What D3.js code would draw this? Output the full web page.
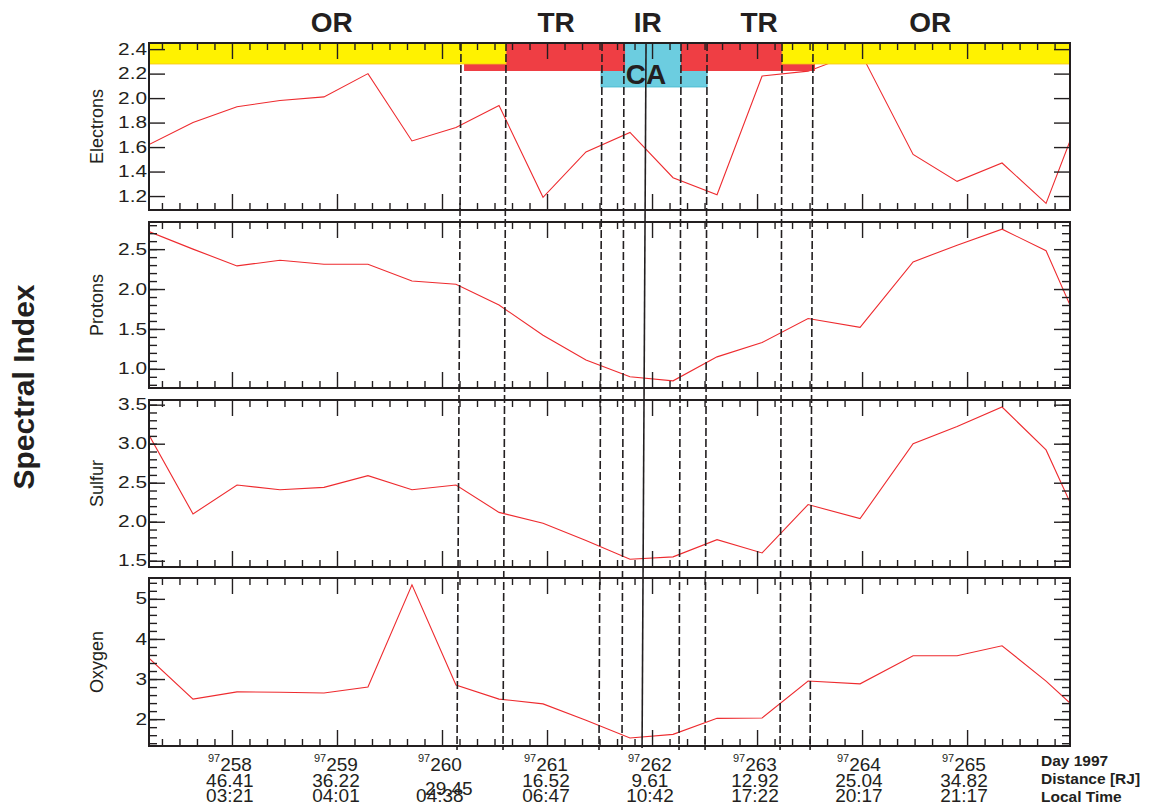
<!DOCTYPE html>
<html>
<head>
<meta charset="utf-8">
<script src="https://cdnjs.cloudflare.com/ajax/libs/d3/7.8.5/d3.min.js"></script>
<style>
  body { margin: 0; background: #fff; }
  text { font-family: "Liberation Sans", Arial, sans-serif; fill: #231f20; }
</style>
</head>
<body>
<div id="chart"></div>
<script>
// sample times (day of year 1997) and spectral indices
var times = [257.21, 257.629, 258.048, 258.457, 258.876, 259.295, 259.714, 260.133, 260.543, 260.962, 261.371,
             261.790, 262.200, 262.619, 263.048, 263.486, 263.981, 264.486, 264.905, 265.333, 265.752, 265.98];
var electrons = [1.62, 1.80, 1.93, 1.98, 2.01, 2.20, 1.65, 1.76, 1.94, 1.19, 1.56,
                 1.72, 1.35, 1.21, 2.18, 2.22, 2.38, 1.54, 1.32, 1.47, 1.14, 1.65];
var protons = [2.72, 2.50, 2.29, 2.36, 2.31, 2.31, 2.10, 2.06, 1.80, 1.42, 1.11,
               0.90, 0.85, 1.15, 1.33, 1.63, 1.52, 2.34, 2.55, 2.75, 2.48, 1.80];
var sulfur = [3.11, 2.10, 2.47, 2.41, 2.44, 2.59, 2.41, 2.47, 2.12, 1.98, 1.76,
              1.52, 1.55, 1.77, 1.60, 2.22, 2.04, 3.00, 3.22, 3.47, 2.92, 2.25];
var oxygen = [3.52, 2.50, 2.68, 2.67, 2.65, 2.80, 5.35, 2.85, 2.50, 2.38, 1.97,
              1.53, 1.62, 2.02, 2.03, 2.95, 2.88, 3.58, 3.58, 3.83, 2.95, 2.40];

// y ticks
var electronTicks = [1.2, 1.4, 1.6, 1.8, 2.0, 2.2, 2.4];
var protonTicks = [1.0, 1.5, 2.0, 2.5];
var sulfurTicks = [1.5, 2.0, 2.5, 3.0, 3.5];
var oxygenTicks = [2, 3, 4, 5];

// x tick labels
var dayTicks = [258, 259, 260, 261, 262, 263, 264, 265];
var labelDays = [257.98, 258.99, 259.98, 260.99, 261.98, 262.98, 263.97, 264.97];
var dayLabels = ["258", "259", "260", "261", "262", "263", "264", "265"];
var distances = ["46.41", "36.22", "29.45", "16.52", "9.61", "12.92", "25.04", "34.82"];
var localTimes = ["03:21", "04:01", "04:38", "06:47", "10:42", "17:22", "20:17", "21:17"];
var rowNames = ["Day 1997", "Distance [RJ]", "Local Time"];

// region boundaries (top / bottom of the dashed lines) and closest approach
var boundaryTop = [260.181, 260.610, 261.524, 261.733, 262.276, 262.524, 263.238, 263.533];
var boundaryBottom = [260.143, 260.581, 261.495, 261.714, 262.257, 262.505, 263.219, 263.505];
var closestTop = 261.943, closestBottom = 261.905;

var regionNames = ["OR", "TR", "IR", "TR", "OR"];
var regionDays = [258.95, 261.086, 261.96, 263.02, 264.65];
var yellowSpans = [[257.21, 260.61], [263.238, 265.98]];
var redSpans = [[260.21, 261.743], [262.276, 263.552]];
var cyanSpans = [[261.514, 262.524]];

var width = 1150, height = 805;
var ink = "#231f20";

var svg = d3.select("#chart")
            .append("svg")
            .attr("width", width)
            .attr("height", height);

var x = d3.scaleLinear().domain([257.21, 265.98]).range([149, 1070]);

// minor x ticks every 4 hours
var xMinor = d3.range(257 + 2 / 6, 265.99, 1 / 6).filter(function(d) {
    return Math.abs(d - Math.round(d)) > 0.01;
});

var panels = [
    {label: "Electrons", values: electrons, domain: [1.086, 2.45], major: electronTicks, minor: [], fmt: d3.format(".1f"), top: 43, bottom: 210},
    {label: "Protons", values: protons, domain: [0.76, 2.84], major: protonTicks, minor: d3.range(0.8, 2.85, 0.1), fmt: d3.format(".1f"), top: 222, bottom: 388},
    {label: "Sulfur", values: sulfur, domain: [1.42, 3.56], major: sulfurTicks, minor: d3.range(1.5, 3.55, 0.1), fmt: d3.format(".1f"), top: 400, bottom: 567},
    {label: "Oxygen", values: oxygen, domain: [1.33, 5.52], major: oxygenTicks, minor: d3.range(1.4, 5.45, 0.2), fmt: d3.format("d"), top: 578, bottom: 746}
];

function styleAxis(g) {
    g.select(".domain").remove();
    g.selectAll(".tick line").attr("stroke", ink).attr("stroke-width", 1.4);
}

panels.forEach(function(p, pi) {
    var y = d3.scaleLinear().domain(p.domain).range([p.bottom, p.top]);
    var g = svg.append("g");

    var clipId = "clip" + pi;
    svg.append("clipPath").attr("id", clipId)
        .append("rect")
        .attr("x", x.range()[0]).attr("y", p.top)
        .attr("width", x.range()[1] - x.range()[0])
        .attr("height", p.bottom - p.top);

    // data line
    var line = d3.line()
        .x(function(d, i) { return x(times[i]); })
        .y(function(d) { return y(d); });
    g.append("path")
        .datum(p.values)
        .attr("clip-path", "url(#" + clipId + ")")
        .attr("d", line)
        .attr("fill", "none")
        .attr("stroke", "#ee2b2f")
        .attr("stroke-width", 1.1);

    // region bars on top of the electron panel
    if (pi === 0) {
        g.selectAll("rect.cyan").data(cyanSpans).enter().append("rect")
            .attr("x", function(d) { return x(d[0]); })
            .attr("y", p.top)
            .attr("width", function(d) { return x(d[1]) - x(d[0]); })
            .attr("height", 44)
            .attr("fill", "#6ccde0")
            .attr("stroke", "#45b6cc")
            .attr("stroke-width", 0.8);
        g.selectAll("rect.red").data(redSpans).enter().append("rect")
            .attr("x", function(d) { return x(d[0]); })
            .attr("y", p.top)
            .attr("width", function(d) { return x(d[1]) - x(d[0]); })
            .attr("height", 28)
            .attr("fill", "#ef3e44");
        g.selectAll("rect.yellow").data(yellowSpans).enter().append("rect")
            .attr("x", function(d) { return x(d[0]); })
            .attr("y", p.top)
            .attr("width", function(d) { return x(d[1]) - x(d[0]); })
            .attr("height", 21)
            .attr("fill", "#fff200")
            .attr("stroke", "#f7c21a")
            .attr("stroke-width", 0.8);
    }

    // x ticks, bottom (pointing up) and top (pointing down)
    g.append("g").attr("transform", "translate(0," + p.bottom + ")")
        .call(d3.axisBottom(x).tickValues(dayTicks).tickSize(-16).tickFormat(""))
        .call(styleAxis);
    g.append("g").attr("transform", "translate(0," + p.bottom + ")")
        .call(d3.axisBottom(x).tickValues(xMinor).tickSize(-7).tickFormat(""))
        .call(styleAxis);
    g.append("g").attr("transform", "translate(0," + p.top + ")")
        .call(d3.axisTop(x).tickValues(dayTicks).tickSize(-16).tickFormat(""))
        .call(styleAxis);
    g.append("g").attr("transform", "translate(0," + p.top + ")")
        .call(d3.axisTop(x).tickValues(xMinor).tickSize(-7).tickFormat(""))
        .call(styleAxis);

    // y ticks left with labels, right mirrored
    var left = g.append("g").attr("transform", "translate(" + x.range()[0] + ",0)")
        .call(d3.axisLeft(y).tickValues(p.major).tickSizeInner(-16).tickSizeOuter(0).tickPadding(2).tickFormat(p.fmt))
        .call(styleAxis);
    left.selectAll(".tick text")
        .attr("font-size", "16px")
        .attr("font-family", null)
        .attr("fill", ink)
        .each(function() {
            var w = this.getComputedTextLength();
            d3.select(this).attr("textLength", w * 1.3).attr("lengthAdjust", "spacingAndGlyphs");
        });
    g.append("g").attr("transform", "translate(" + x.range()[0] + ",0)")
        .call(d3.axisLeft(y).tickValues(p.minor).tickSize(-8).tickFormat(""))
        .call(styleAxis);
    g.append("g").attr("transform", "translate(" + x.range()[1] + ",0)")
        .call(d3.axisRight(y).tickValues(p.major).tickSize(-16).tickFormat(""))
        .call(styleAxis);
    g.append("g").attr("transform", "translate(" + x.range()[1] + ",0)")
        .call(d3.axisRight(y).tickValues(p.minor).tickSize(-8).tickFormat(""))
        .call(styleAxis);

    // frame
    g.append("rect")
        .attr("x", x.range()[0]).attr("y", p.top)
        .attr("width", x.range()[1] - x.range()[0])
        .attr("height", p.bottom - p.top)
        .attr("fill", "none")
        .attr("stroke", ink)
        .attr("stroke-width", 2);

    // panel label
    g.append("text")
        .attr("transform", "translate(103," + (p.top + p.bottom) / 2 + ") rotate(-90)")
        .attr("text-anchor", "middle")
        .attr("font-size", "18px")
        .text(p.label);
});

// region boundaries
svg.selectAll("line.boundary")
    .data(boundaryTop)
    .enter()
    .append("line")
    .attr("x1", function(d) { return x(d); })
    .attr("x2", function(d, i) { return x(boundaryBottom[i]); })
    .attr("y1", 43)
    .attr("y2", 750)
    .attr("stroke", ink)
    .attr("stroke-width", 1.6)
    .attr("stroke-dasharray", "8,3");

svg.append("line")
    .attr("x1", x(closestTop)).attr("x2", x(closestBottom))
    .attr("y1", 43).attr("y2", 748)
    .attr("stroke", ink)
    .attr("stroke-width", 1.6);

// region names
svg.selectAll("text.region")
    .data(regionNames)
    .enter()
    .append("text")
    .attr("x", function(d, i) { return x(regionDays[i]); })
    .attr("y", 32)
    .attr("text-anchor", "middle")
    .attr("font-size", "28px")
    .attr("font-weight", "bold")
    .text(function(d) { return d; });

svg.append("text")
    .attr("x", x(closestTop))
    .attr("y", 84)
    .attr("text-anchor", "middle")
    .attr("font-size", "28px")
    .attr("font-weight", "bold")
    .text("CA");

// y title
svg.append("text")
    .attr("transform", "translate(34,387) rotate(-90)")
    .attr("text-anchor", "middle")
    .attr("font-size", "30px")
    .attr("font-weight", "bold")
    .text("Spectral Index");

// bottom labels
var dayText = svg.selectAll("text.day")
    .data(dayLabels)
    .enter()
    .append("text")
    .attr("x", function(d, i) { return x(labelDays[i]); })
    .attr("y", 771)
    .attr("text-anchor", "middle");
dayText.append("tspan").attr("font-size", "11px").attr("dy", -9).text("97");
dayText.append("tspan").attr("font-size", "19px").attr("dy", 9).text(function(d) { return d; });

svg.selectAll("text.dist")
    .data(distances)
    .enter()
    .append("text")
    .attr("x", function(d, i) { return x(labelDays[i]) + (d === "29.45" ? 9 : 0); })
    .attr("y", function(d) { return d === "29.45" ? 795 : 787; })
    .attr("text-anchor", "middle")
    .attr("font-size", "19px")
    .text(function(d) { return d; });

svg.selectAll("text.lt")
    .data(localTimes)
    .enter()
    .append("text")
    .attr("x", function(d, i) { return x(labelDays[i]); })
    .attr("y", 802)
    .attr("text-anchor", "middle")
    .attr("font-size", "19px")
    .text(function(d) { return d; });

svg.selectAll("text.rowname")
    .data(rowNames)
    .enter()
    .append("text")
    .attr("x", 1041)
    .attr("y", function(d, i) { return 766 + i * 18; })
    .attr("font-size", "15.5px")
    .attr("font-weight", "bold")
    .text(function(d) { return d; });
</script>
</body>
</html>
